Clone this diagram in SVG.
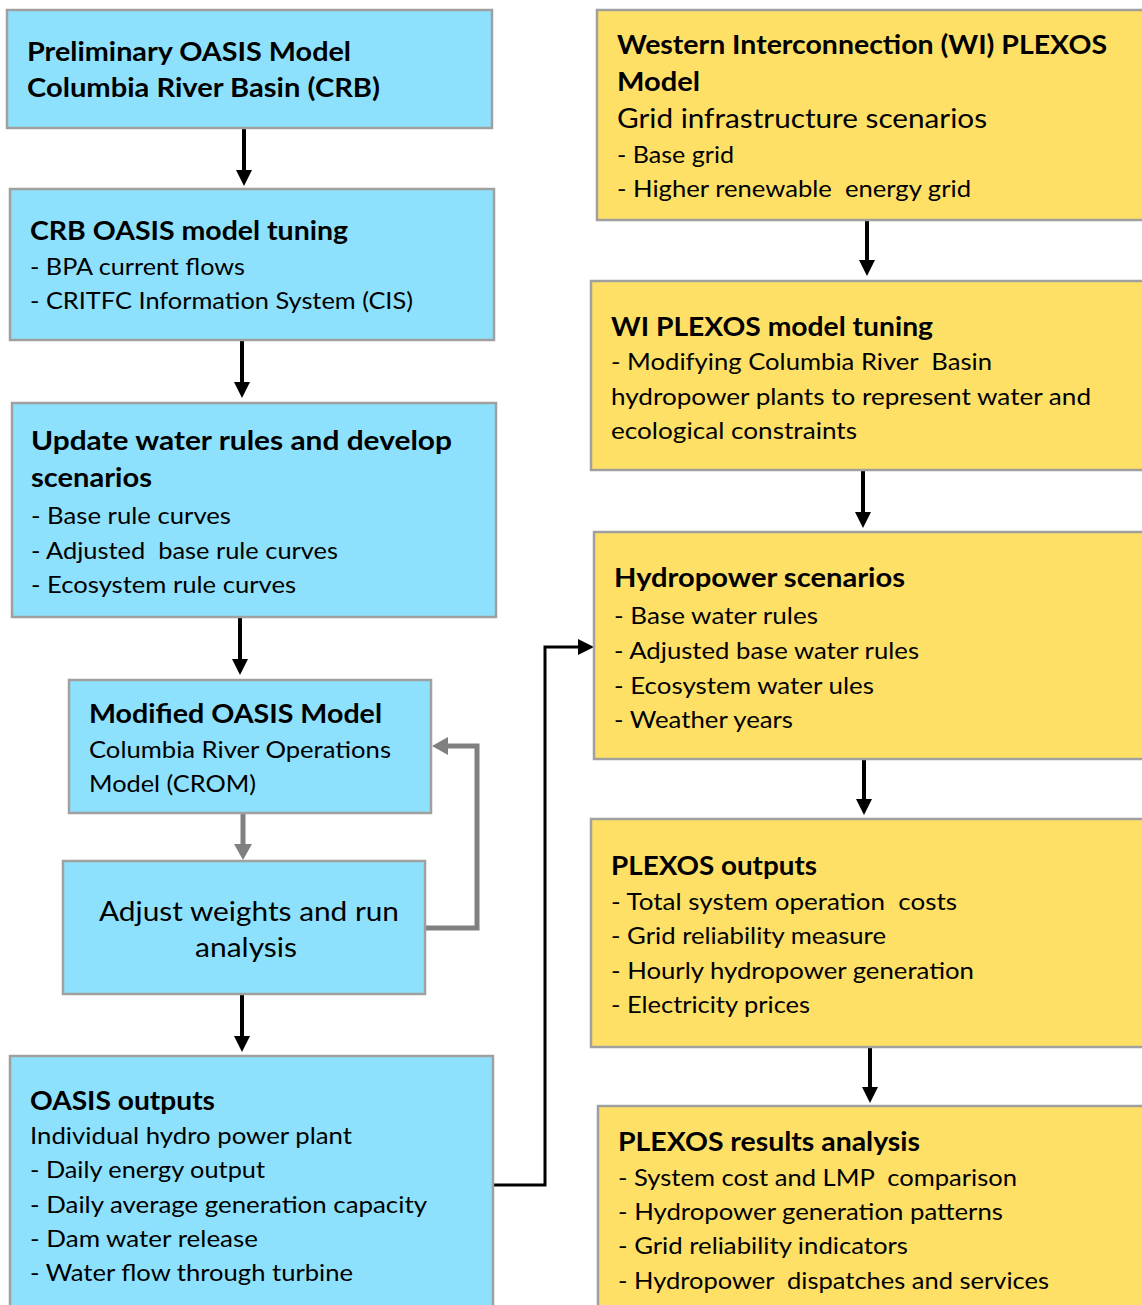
<svg xmlns="http://www.w3.org/2000/svg" width="1142" height="1305" viewBox="0 0 1142 1305">
<style>
.b{fill:#8EE1FD;stroke:#A0A0A0;stroke-width:2.5}
.y{fill:#FFE066;stroke:#A0A0A0;stroke-width:2.5}
text{font-family:Lato,"Open Sans","Liberation Sans",sans-serif;fill:#000;white-space:pre}
.h{font-weight:bold;font-size:26px}
.t{font-size:24px}
.m{font-size:26px}
.c{fill:none;stroke:#000;stroke-width:4}
.e{fill:none;stroke:#000;stroke-width:3}
.g{fill:none;stroke:#808080;stroke-width:5}
</style>
<defs>
<marker id="ah" markerUnits="userSpaceOnUse" markerWidth="16" markerHeight="16" refX="6" refY="8" orient="auto"><path d="M0,0 L16,8 L0,16 z" fill="#000"/></marker>
<marker id="ag" markerUnits="userSpaceOnUse" markerWidth="16" markerHeight="18" refX="6" refY="9" orient="auto"><path d="M0,0 L16,9 L0,18 z" fill="#808080"/></marker>
</defs>
<g id="connectors">
<line class="c" x1="244" y1="128" x2="244" y2="176" marker-end="url(#ah)"/>
<line class="c" x1="242" y1="340" x2="242" y2="388" marker-end="url(#ah)"/>
<line class="c" x1="240" y1="617" x2="240" y2="665" marker-end="url(#ah)"/>
<line class="g" x1="243" y1="813" x2="243" y2="850" marker-end="url(#ag)"/>
<polyline class="g" points="425,928 477,928 477,746 442,746" marker-end="url(#ag)"/>
<line class="c" x1="242" y1="994" x2="242" y2="1042" marker-end="url(#ah)"/>
<polyline class="e" points="493,1185 545,1185 545,647 584,647" marker-end="url(#ah)"/>
<line class="c" x1="867" y1="220" x2="867" y2="266" marker-end="url(#ah)"/>
<line class="c" x1="863" y1="470" x2="863" y2="518" marker-end="url(#ah)"/>
<line class="c" x1="864" y1="759" x2="864" y2="805" marker-end="url(#ah)"/>
<line class="c" x1="870" y1="1047" x2="870" y2="1093" marker-end="url(#ah)"/>
</g>
<g id="n1">
<rect class="b" x="7" y="10" width="485" height="118"/>
<text class="h" x="27" y="61" textLength="324" lengthAdjust="spacingAndGlyphs">Preliminary OASIS Model</text>
<text class="h" x="27" y="97" textLength="353" lengthAdjust="spacingAndGlyphs">Columbia River Basin (CRB)</text>
</g>
<g id="n2">
<rect class="b" x="10" y="189" width="484" height="151"/>
<text class="h" x="30" y="240" textLength="318" lengthAdjust="spacingAndGlyphs">CRB OASIS model tuning</text>
<text class="t" x="30" y="275" textLength="215" lengthAdjust="spacingAndGlyphs">- BPA current flows</text>
<text class="t" x="30" y="309" textLength="383" lengthAdjust="spacingAndGlyphs">- CRITFC Information System (CIS)</text>
</g>
<g id="n3">
<rect class="b" x="12" y="403" width="484" height="214"/>
<text class="h" x="31" y="450" textLength="421" lengthAdjust="spacingAndGlyphs">Update water rules and develop</text>
<text class="h" x="31" y="487" textLength="121" lengthAdjust="spacingAndGlyphs">scenarios</text>
<text class="t" x="31" y="524" textLength="200" lengthAdjust="spacingAndGlyphs">- Base rule curves</text>
<text class="t" x="31" y="559" textLength="307" lengthAdjust="spacingAndGlyphs">- Adjusted  base rule curves</text>
<text class="t" x="31" y="593" textLength="265" lengthAdjust="spacingAndGlyphs">- Ecosystem rule curves</text>
</g>
<g id="n4">
<rect class="b" x="69" y="680" width="362" height="133"/>
<text class="h" x="89" y="723" textLength="293" lengthAdjust="spacingAndGlyphs">Modified OASIS Model</text>
<text class="t" x="89" y="758" textLength="302" lengthAdjust="spacingAndGlyphs">Columbia River Operations</text>
<text class="t" x="89" y="792" textLength="167" lengthAdjust="spacingAndGlyphs">Model (CROM)</text>
</g>
<g id="n5">
<rect class="b" x="63" y="861" width="362" height="133"/>
<text class="m" x="99" y="921" textLength="300" lengthAdjust="spacingAndGlyphs">Adjust weights and run</text>
<text class="m" x="195" y="957" textLength="102" lengthAdjust="spacingAndGlyphs">analysis</text>
</g>
<g id="n6">
<rect class="b" x="10" y="1056" width="483" height="260"/>
<text class="h" x="30" y="1110" textLength="185" lengthAdjust="spacingAndGlyphs">OASIS outputs</text>
<text class="t" x="30" y="1144" textLength="322" lengthAdjust="spacingAndGlyphs">Individual hydro power plant</text>
<text class="t" x="30" y="1178" textLength="235" lengthAdjust="spacingAndGlyphs">- Daily energy output</text>
<text class="t" x="30" y="1213" textLength="397" lengthAdjust="spacingAndGlyphs">- Daily average generation capacity</text>
<text class="t" x="30" y="1247" textLength="228" lengthAdjust="spacingAndGlyphs">- Dam water release</text>
<text class="t" x="30" y="1281" textLength="323" lengthAdjust="spacingAndGlyphs">- Water flow through turbine</text>
</g>
<g id="n7">
<rect class="y" x="597" y="10" width="560" height="210"/>
<text class="h" x="617" y="54" textLength="490" lengthAdjust="spacingAndGlyphs">Western Interconnection (WI) PLEXOS</text>
<text class="h" x="617" y="91" textLength="83" lengthAdjust="spacingAndGlyphs">Model</text>
<text class="m" x="617" y="128" textLength="370" lengthAdjust="spacingAndGlyphs">Grid infrastructure scenarios</text>
<text class="t" x="617" y="163" textLength="117" lengthAdjust="spacingAndGlyphs">- Base grid</text>
<text class="t" x="617" y="197" textLength="354" lengthAdjust="spacingAndGlyphs">- Higher renewable  energy grid</text>
</g>
<g id="n8">
<rect class="y" x="591" y="281" width="566" height="189"/>
<text class="h" x="611" y="336" textLength="322" lengthAdjust="spacingAndGlyphs">WI PLEXOS model tuning</text>
<text class="t" x="611" y="370" textLength="381" lengthAdjust="spacingAndGlyphs">- Modifying Columbia River  Basin</text>
<text class="t" x="611" y="405" textLength="480" lengthAdjust="spacingAndGlyphs">hydropower plants to represent water and</text>
<text class="t" x="611" y="439" textLength="246" lengthAdjust="spacingAndGlyphs">ecological constraints</text>
</g>
<g id="n9">
<rect class="y" x="594" y="532" width="563" height="227"/>
<text class="h" x="614" y="587" textLength="291" lengthAdjust="spacingAndGlyphs">Hydropower scenarios</text>
<text class="t" x="614" y="624" textLength="204" lengthAdjust="spacingAndGlyphs">- Base water rules</text>
<text class="t" x="614" y="659" textLength="305" lengthAdjust="spacingAndGlyphs">- Adjusted base water rules</text>
<text class="t" x="614" y="694" textLength="260" lengthAdjust="spacingAndGlyphs">- Ecosystem water ules</text>
<text class="t" x="614" y="728" textLength="179" lengthAdjust="spacingAndGlyphs">- Weather years</text>
</g>
<g id="n10">
<rect class="y" x="591" y="819" width="566" height="228"/>
<text class="h" x="611" y="875" textLength="206" lengthAdjust="spacingAndGlyphs">PLEXOS outputs</text>
<text class="t" x="611" y="910" textLength="346" lengthAdjust="spacingAndGlyphs">- Total system operation  costs</text>
<text class="t" x="611" y="944" textLength="275" lengthAdjust="spacingAndGlyphs">- Grid reliability measure</text>
<text class="t" x="611" y="979" textLength="363" lengthAdjust="spacingAndGlyphs">- Hourly hydropower generation</text>
<text class="t" x="611" y="1013" textLength="199" lengthAdjust="spacingAndGlyphs">- Electricity prices</text>
</g>
<g id="n11">
<rect class="y" x="598" y="1106" width="559" height="210"/>
<text class="h" x="618" y="1151" textLength="302" lengthAdjust="spacingAndGlyphs">PLEXOS results analysis</text>
<text class="t" x="618" y="1186" textLength="399" lengthAdjust="spacingAndGlyphs">- System cost and LMP  comparison</text>
<text class="t" x="618" y="1220" textLength="385" lengthAdjust="spacingAndGlyphs">- Hydropower generation patterns</text>
<text class="t" x="618" y="1254" textLength="290" lengthAdjust="spacingAndGlyphs">- Grid reliability indicators</text>
<text class="t" x="618" y="1289" textLength="431" lengthAdjust="spacingAndGlyphs">- Hydropower  dispatches and services</text>
</g>
</svg>
